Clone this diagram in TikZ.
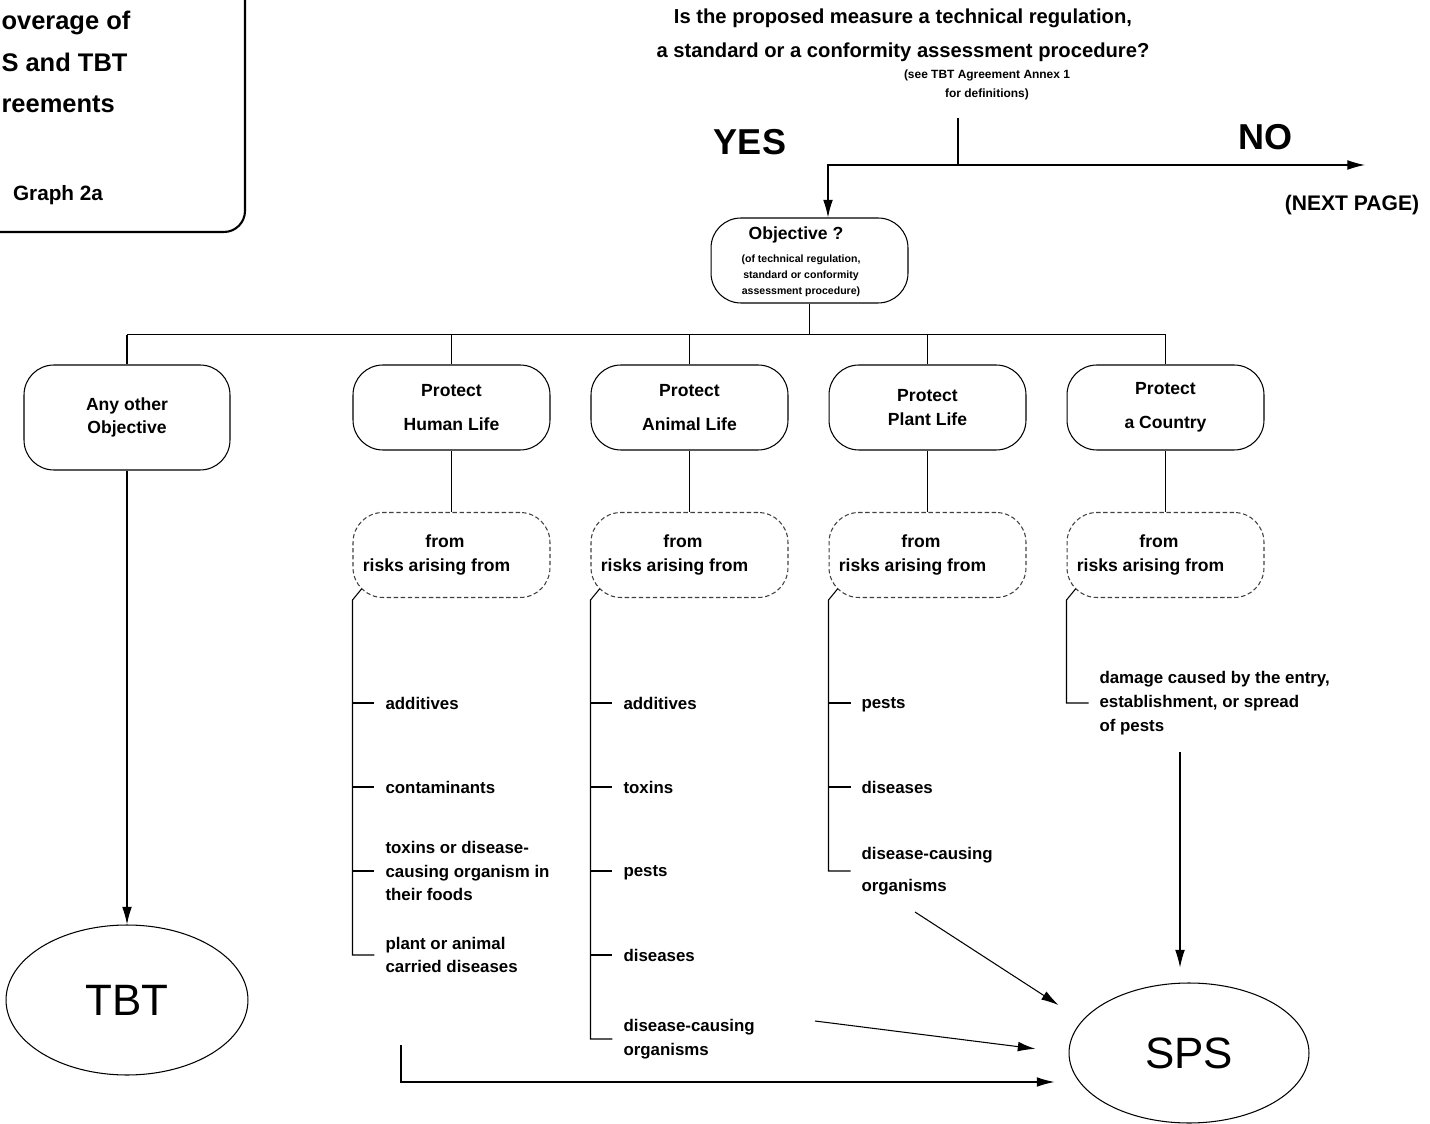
\documentclass[tikz,border=0pt]{standalone}
\usepackage{fontspec}
\setmainfont{Liberation Sans}
\usepackage{tikz}
\usetikzlibrary{calc,shapes.geometric,arrows.meta}

\newcommand\riskslabel{from\hspace*{7.4pt}\\risks arising from\hspace*{17pt}}

\tikzset{
  obox/.style={draw, rounded corners=17pt, minimum width=3.94cm, minimum height=1.7cm, align=center, font=\fontsize{10}{13.6}\selectfont\bfseries},
  riskbox/.style={obox, draw=black!75, dash pattern=on 2.5pt off 1.5pt, font=\fontsize{10}{14.2}\selectfont\bfseries},
  item/.style={anchor=west, align=left, inner sep=0pt, font=\fontsize{9.6}{13.6}\selectfont\bfseries},
  oval/.style={draw, ellipse, inner sep=0pt, font=\fontsize{25}{30}\selectfont},
  answer/.style={font=\fontsize{20.5}{24}\selectfont\bfseries},
  arr/.style={-{Latex[length=10pt,width=5.5pt]}},
}

\begin{document}
\begin{tikzpicture}[x=0.02cm, y=-0.02cm, line width=0.6pt]
\useasboundingbox (0,0) rectangle (1430,1124);

\draw[line width=1.2pt, rounded corners=12pt] (0,232) -- (245,232) -- (245,0);
\node[anchor=west, align=left, inner sep=0pt, font=\fontsize{14.5}{23.8}\selectfont\bfseries] (title) at (1,62) {overage of\\S and TBT\\reements};
\node[font=\fontsize{11.8}{14}\selectfont\bfseries] (graph) at (58,195) {Graph 2a};

\node[align=center, font=\fontsize{11.5}{19.3}\selectfont\bfseries] (question) at (903,35) {Is the proposed measure a technical regulation,\\a standard or a conformity assessment procedure?};
\node[align=center, font=\fontsize{6.8}{10.8}\selectfont\bfseries] (note) at (987,85) {(see TBT Agreement Annex 1\\for definitions)};

\node[answer] (yes) at (750,142) {YES};
\node[answer] (no) at (1265,137) {NO};
\node[font=\fontsize{12}{14}\selectfont\bfseries] (nextpage) at (1352,205) {(NEXT PAGE)};

\node[obox] (obj) at (809.5,260.5) {};
\node[font=\fontsize{10}{12}\selectfont\bfseries] (objtitle) at (796,235) {Objective ?};
\node[align=center, font=\fontsize{6}{9}\selectfont\bfseries] (objnote) at (801,276) {(of technical regulation,\\standard or conformity\\ assessment procedure)};

\coordinate (qfoot) at (958,118);
\coordinate (split) at (958,165);
\coordinate (noend) at (1365,165);
\draw (qfoot) -- (split);
\draw[arr] (split) -- (noend);
\draw[arr] (split) -| ([xshift=0.37cm]obj.north);

\node[obox, minimum width=4.12cm, minimum height=2.1cm] (other) at (127,417.5) {Any other\\Objective};
\node[obox] (human) at (451.5,407.5) {Protect\\[5.7pt]Human Life};
\node[obox] (animal) at (689.5,407.5) {Protect\\[5.7pt]Animal Life};
\node[obox] (plant) at (927.5,407.5) {Protect\\Plant Life};
\node[obox] (country) at (1165.5,407.5) {Protect\\[5.7pt]a Country};

\coordinate (bus) at ($(obj.south)+(0,31)$);
\draw (obj.south) -- (bus);
\draw (bus -| other.north) -- (bus -| country.north);
\draw (bus -| other.north) -- (other.north);
\draw (bus -| human.north) -- (human.north);
\draw (bus -| animal.north) -- (animal.north);
\draw (bus -| plant.north) -- (plant.north);
\draw (bus -| country.north) -- (country.north);

\node[riskbox] (hrisk) at (451.5,555) {\riskslabel};
\node[riskbox] (arisk) at (689.5,555) {\riskslabel};
\node[riskbox] (prisk) at (927.5,555) {\riskslabel};
\node[riskbox] (crisk) at (1165.5,555) {\riskslabel};
\draw (human.south) -- (hrisk.north);
\draw (animal.south) -- (arisk.north);
\draw (plant.south) -- (prisk.north);
\draw (country.south) -- (crisk.north);

\node[item] (hadd) at (385,703) {additives};
\node[item] (hcont) at (385,787) {contaminants};
\node[item] (htox) at (385,871) {toxins or disease-\\causing organism in\\their foods};
\node[item] (hcarr) at (385,955) {plant or animal\\carried diseases};

\node[item] (aadd) at (623,703) {additives};
\node[item] (atox) at (623,787) {toxins};
\node[item, text depth=0pt] (apest) at (623,871) {pests};
\node[item] (adis) at (623,955) {diseases};
\node[item] (aorg) at (623,1039) {disease-causing\\organisms};

\node[item, text depth=0pt] (ppest) at (861,703) {pests};
\node[item] (pdis) at (861,787) {diseases};
\node[item] (porg) at (861,871) {disease-causing\\[4.5pt]organisms};

\node[item] (cdam) at (1099,703) {damage caused by the entry,\\establishment, or spread\\of pests};

\draw ($(hrisk.south west)+(9,-9)$) -- ($(hrisk.south west)+(0,2)$) -- (hrisk.south west |- hcarr.west) -- ++(22,0);
\draw (hrisk.south west |- hadd.west) -- ++(22,0);
\draw (hrisk.south west |- hcont.west) -- ++(22,0);
\draw (hrisk.south west |- htox.west) -- ++(22,0);

\draw ($(arisk.south west)+(9,-9)$) -- ($(arisk.south west)+(0,2)$) -- (arisk.south west |- aorg.west) -- ++(22,0);
\draw (arisk.south west |- aadd.west) -- ++(22,0);
\draw (arisk.south west |- atox.west) -- ++(22,0);
\draw (arisk.south west |- apest.west) -- ++(22,0);
\draw (arisk.south west |- adis.west) -- ++(22,0);

\draw ($(prisk.south west)+(9,-9)$) -- ($(prisk.south west)+(0,2)$) -- (prisk.south west |- porg.west) -- ++(22,0);
\draw (prisk.south west |- ppest.west) -- ++(22,0);
\draw (prisk.south west |- pdis.west) -- ++(22,0);

\draw ($(crisk.south west)+(9,-9)$) -- ($(crisk.south west)+(0,2)$) -- (crisk.south west |- cdam.west) -- ++(22,0);

\node[oval, minimum width=4.84cm, minimum height=3cm] (tbt) at (127,1000) {TBT};
\node[oval, minimum width=4.8cm, minimum height=2.8cm] (sps) at (1189,1053) {SPS};

\draw[arr] (other.south) -- (tbt.north);

\coordinate (hfoot) at (401,1045);
\coordinate (hturn) at (401,1082);
\coordinate (afoot) at (815,1021);
\coordinate (pfoot) at (915,912);
\coordinate (cfoot) at (1180,752);
\draw[arr, shorten >=8pt] (hfoot) -- (hturn) -- (hturn -| sps.west);
\draw[arr, shorten >=19pt] (afoot) -- (sps.west);
\draw[arr, shorten >=16pt] (pfoot) -- (sps.163);
\draw[arr, shorten >=8.5pt] (cfoot) -- (cfoot |- sps.north);
\end{tikzpicture}
\end{document}
